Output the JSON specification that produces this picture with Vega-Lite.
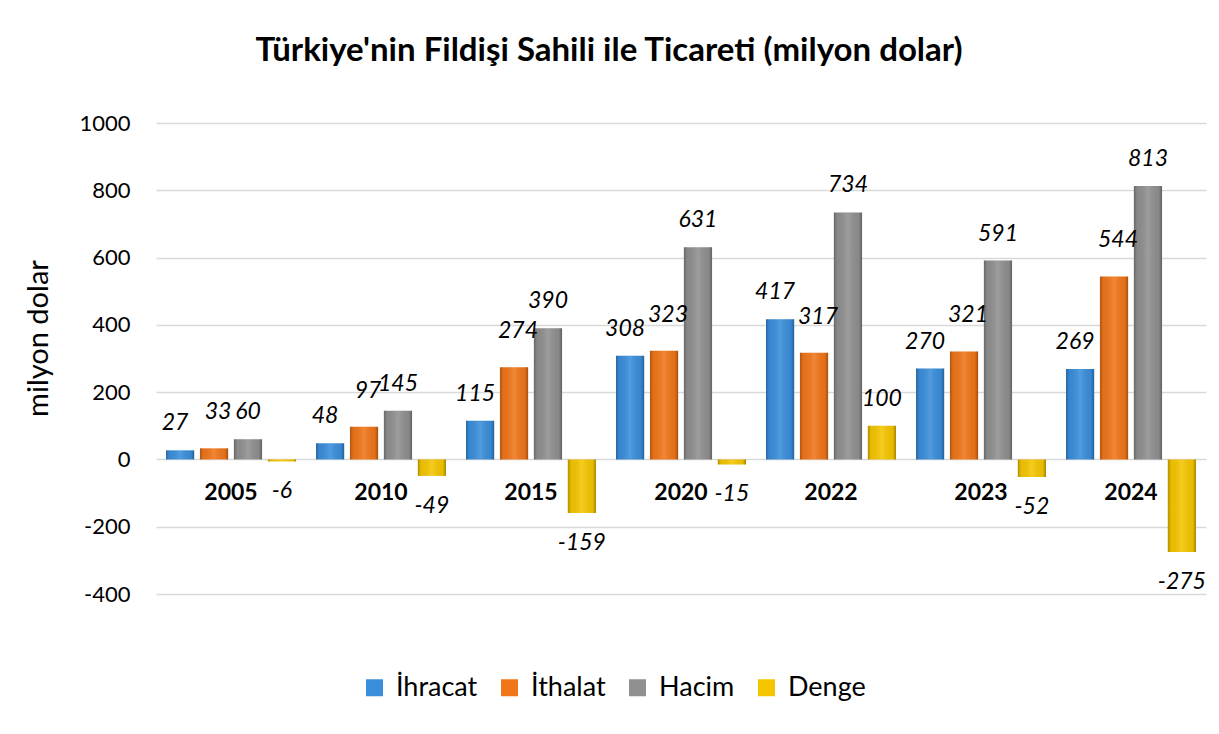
{
  "$schema": "https://vega.github.io/schema/vega-lite/v6.json",
  "autosize": "none",
  "width": 1050,
  "height": 471,
  "padding": {"left": 156, "top": 123, "right": 13, "bottom": 140},
  "background": "white",
  "config": {
    "font": "Lato",
    "view": {"stroke": null}
  },
  "title": {
    "text": "Türkiye'nin Fildişi Sahili ile Ticareti (milyon dolar)",
    "fontSize": 33,
    "fontWeight": "bold",
    "color": "#000000",
    "anchor": "middle",
    "frame": "group",
    "dx": -72,
    "offset": 44
  },
  "data": {
    "values": [
      {"year": "2005", "series": "İhracat", "value": 27},
      {"year": "2005", "series": "İthalat", "value": 33},
      {"year": "2005", "series": "Hacim", "value": 60},
      {"year": "2005", "series": "Denge", "value": -6},
      {"year": "2010", "series": "İhracat", "value": 48},
      {"year": "2010", "series": "İthalat", "value": 97},
      {"year": "2010", "series": "Hacim", "value": 145},
      {"year": "2010", "series": "Denge", "value": -49},
      {"year": "2015", "series": "İhracat", "value": 115},
      {"year": "2015", "series": "İthalat", "value": 274},
      {"year": "2015", "series": "Hacim", "value": 390},
      {"year": "2015", "series": "Denge", "value": -159},
      {"year": "2020", "series": "İhracat", "value": 308},
      {"year": "2020", "series": "İthalat", "value": 323},
      {"year": "2020", "series": "Hacim", "value": 631},
      {"year": "2020", "series": "Denge", "value": -15},
      {"year": "2022", "series": "İhracat", "value": 417},
      {"year": "2022", "series": "İthalat", "value": 317},
      {"year": "2022", "series": "Hacim", "value": 734},
      {"year": "2022", "series": "Denge", "value": 100},
      {"year": "2023", "series": "İhracat", "value": 270},
      {"year": "2023", "series": "İthalat", "value": 321},
      {"year": "2023", "series": "Hacim", "value": 591},
      {"year": "2023", "series": "Denge", "value": -52},
      {"year": "2024", "series": "İhracat", "value": 269},
      {"year": "2024", "series": "İthalat", "value": 544},
      {"year": "2024", "series": "Hacim", "value": 813},
      {"year": "2024", "series": "Denge", "value": -275}
    ]
  },
  "encoding": {
    "x": {
      "field": "year",
      "type": "nominal",
      "sort": null,
      "scale": {"paddingInner": 0.1333, "paddingOuter": 0.0667},
      "axis": null
    },
    "y": {
      "field": "value",
      "type": "quantitative",
      "scale": {"domain": [-400, 1000], "nice": false, "zero": false},
      "axis": {
        "title": "milyon dolar",
        "titleFontSize": 29,
        "titleFontWeight": "normal",
        "titleColor": "#000000",
        "titleX": -118,
        "titleY": 215,
        "titleBaseline": "middle",
        "titleAlign": "center",
        "titleAngle": 270,
        "values": [-400, -200, 0, 200, 400, 600, 800, 1000],
        "labelExpr": "'' + datum.value",
        "labelFontSize": 22,
        "labelColor": "#000000",
        "labelPadding": 26,
        "domain": false,
        "ticks": false,
        "grid": true,
        "gridColor": "#D9D9D9",
        "gridWidth": 1.5
      }
    }
  },
  "layer": [
    {
      "mark": {"type": "bar"},
      "encoding": {
        "xOffset": {
          "field": "series",
          "type": "nominal",
          "scale": {"domain": ["İhracat", "İthalat", "Hacim", "Denge"], "paddingInner": 0.17}
        },
        "color": {
          "field": "series",
          "type": "nominal",
          "scale": {
            "domain": ["İhracat", "İthalat", "Hacim", "Denge"],
            "range": ["#3A8EDB", "#F0761A", "#909090", "#F5C600"]
          },
          "legend": {
            "title": null,
            "orient": "none",
            "direction": "horizontal",
            "legendX": 205,
            "legendY": 551,
            "symbolType": "square",
            "symbolSize": 289,
            "symbolStrokeWidth": 0,
            "labelFontSize": 27,
            "labelColor": "#000000",
            "labelOffset": 8,
            "columnPadding": 18
          }
        }
      }
    },
    {
      "mark": {
        "type": "bar",
        "fill": {
          "gradient": "linear",
          "x1": 0, "y1": 0, "x2": 1, "y2": 0,
          "stops": [
            {"offset": 0, "color": "rgba(0,0,0,0.28)"},
            {"offset": 0.12, "color": "rgba(0,0,0,0.05)"},
            {"offset": 0.5, "color": "rgba(255,255,255,0.12)"},
            {"offset": 0.88, "color": "rgba(0,0,0,0.05)"},
            {"offset": 1, "color": "rgba(0,0,0,0.32)"}
          ]
        }
      },
      "encoding": {
        "xOffset": {
          "field": "series",
          "type": "nominal",
          "scale": {"domain": ["İhracat", "İthalat", "Hacim", "Denge"], "paddingInner": 0.17}
        }
      }
    },
    {
      "transform": [{"filter": "datum.value >= 0 && datum.series === 'İhracat'"}],
      "mark": {"type": "text", "fontSize": 23, "fontStyle": "italic", "color": "#000000", "baseline": "middle", "dy": -27, "dx": -5},
      "encoding": {
        "xOffset": {
          "field": "series",
          "type": "nominal",
          "scale": {"domain": ["İhracat", "İthalat", "Hacim", "Denge"], "paddingInner": 0.17}
        },
        "text": {"field": "value", "type": "nominal"}
      }
    },
    {
      "transform": [{"filter": "datum.value >= 0 && datum.series === 'İthalat'"}],
      "mark": {"type": "text", "fontSize": 23, "fontStyle": "italic", "color": "#000000", "baseline": "middle", "dy": -36, "dx": 4},
      "encoding": {
        "xOffset": {
          "field": "series",
          "type": "nominal",
          "scale": {"domain": ["İhracat", "İthalat", "Hacim", "Denge"], "paddingInner": 0.17}
        },
        "text": {"field": "value", "type": "nominal"}
      }
    },
    {
      "transform": [{"filter": "datum.value >= 0 && datum.series !== 'İhracat' && datum.series !== 'İthalat'"}],
      "mark": {"type": "text", "fontSize": 23, "fontStyle": "italic", "color": "#000000", "baseline": "middle", "dy": -27},
      "encoding": {
        "xOffset": {
          "field": "series",
          "type": "nominal",
          "scale": {"domain": ["İhracat", "İthalat", "Hacim", "Denge"], "paddingInner": 0.17}
        },
        "text": {"field": "value", "type": "nominal"}
      }
    },
    {
      "transform": [{"filter": "datum.value < 0"}],
      "mark": {"type": "text", "fontSize": 23, "fontStyle": "italic", "color": "#000000", "baseline": "middle", "dy": 30},
      "encoding": {
        "xOffset": {
          "field": "series",
          "type": "nominal",
          "scale": {"domain": ["İhracat", "İthalat", "Hacim", "Denge"], "paddingInner": 0.17}
        },
        "text": {"field": "value", "type": "nominal"}
      }
    },
    {
      "transform": [{"filter": "datum.series === 'İhracat'"}],
      "mark": {"type": "text", "fontSize": 23, "fontWeight": "bold", "color": "#000000", "baseline": "middle", "dy": 34},
      "encoding": {
        "y": {"datum": 0},
        "text": {"field": "year", "type": "nominal"}
      }
    }
  ]
}
